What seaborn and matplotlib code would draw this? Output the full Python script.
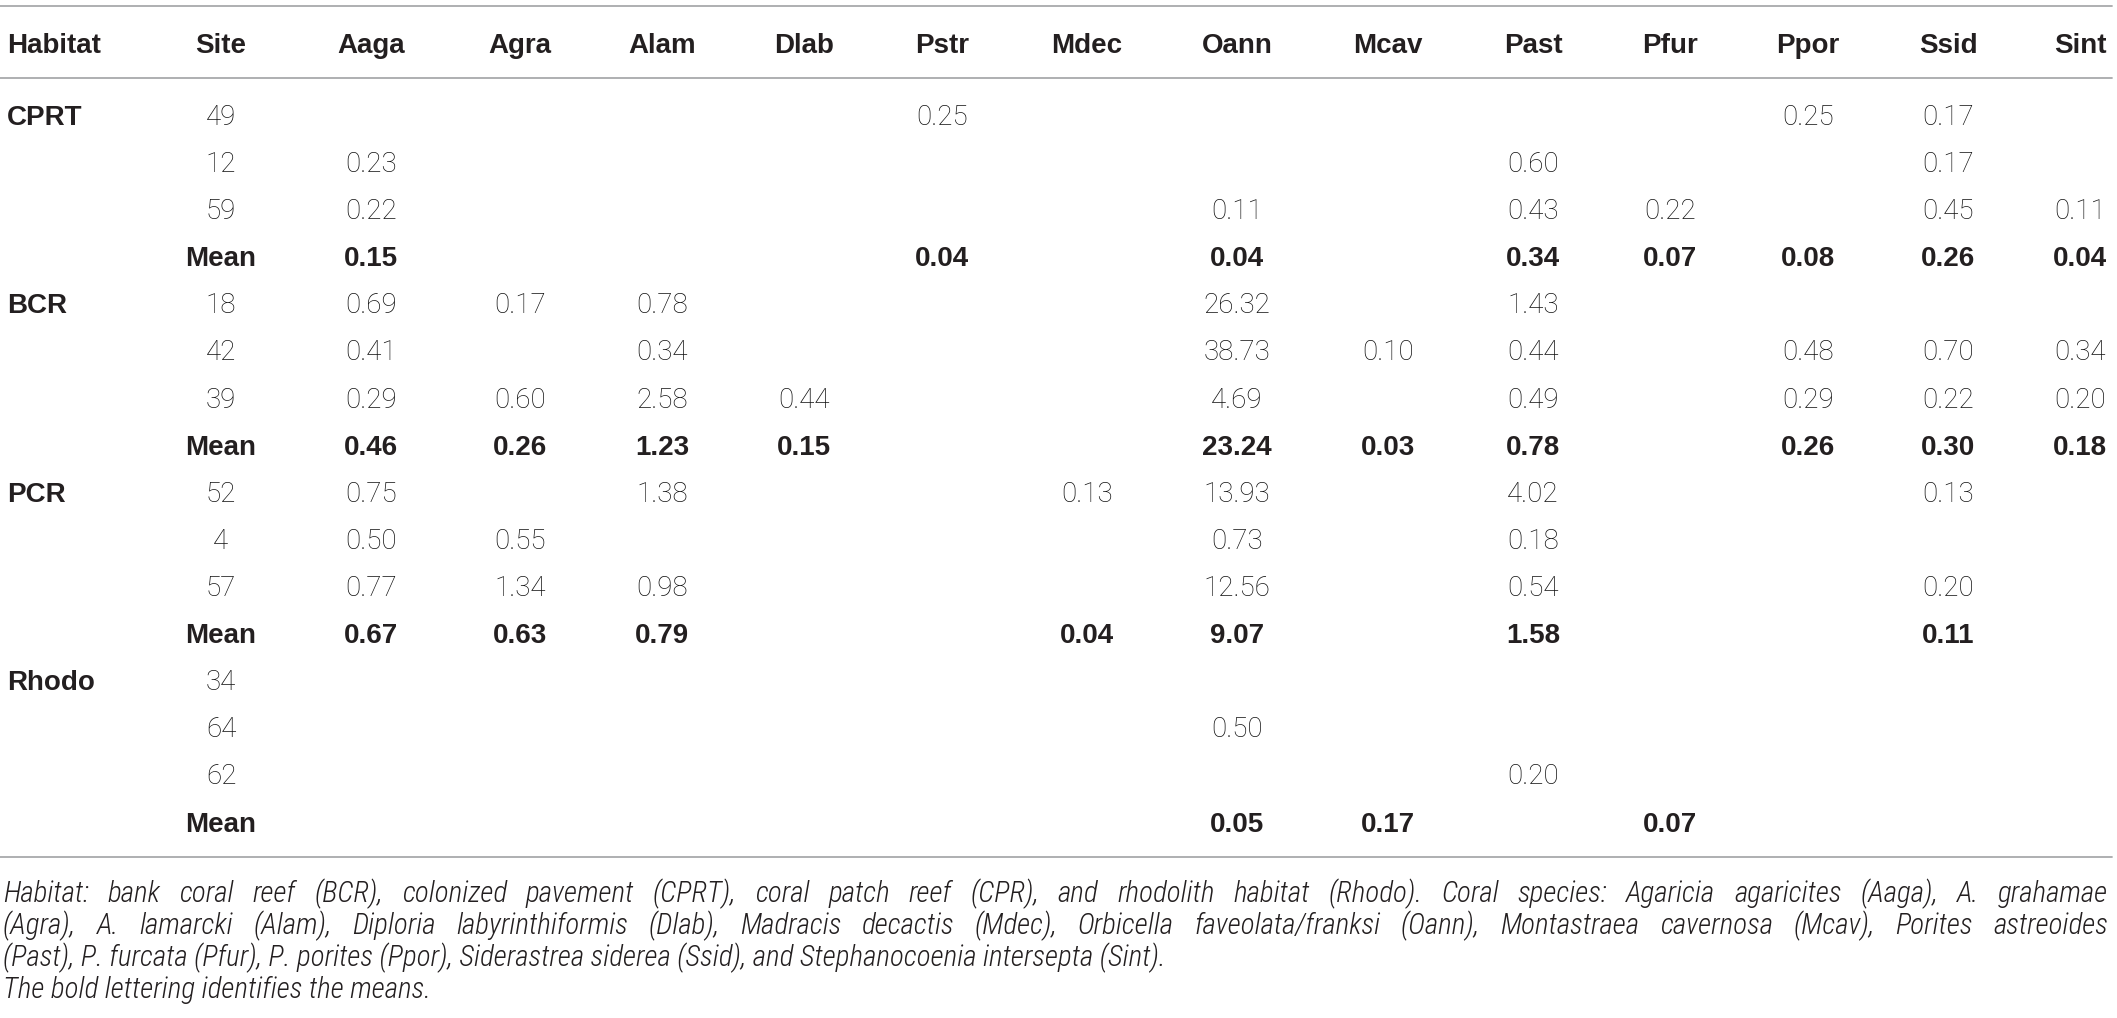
"""
Coral species density table by habitat and site
"""
import matplotlib
matplotlib.use('Agg')
import matplotlib.pyplot as plt
from matplotlib import font_manager
import seaborn as sns
import pandas as pd

# ---- data ----
habitats = ['CPRT', 'BCR', 'PCR', 'Rhodo']
sites = ['49', '12', '59', 'Mean',
         '18', '42', '39', 'Mean',
         '52', '4', '57', 'Mean',
         '34', '64', '62', 'Mean']
species = ['Aaga', 'Agra', 'Alam', 'Dlab', 'Pstr', 'Mdec', 'Oann',
           'Mcav', 'Past', 'Pfur', 'Ppor', 'Ssid', 'Sint']

N = None
aaga = [N, 0.23, 0.22, 0.15, 0.69, 0.41, 0.29, 0.46, 0.75, 0.50, 0.77, 0.67, N, N, N, N]
agra = [N, N, N, N, 0.17, N, 0.60, 0.26, N, 0.55, 1.34, 0.63, N, N, N, N]
alam = [N, N, N, N, 0.78, 0.34, 2.58, 1.23, 1.38, N, 0.98, 0.79, N, N, N, N]
dlab = [N, N, N, N, N, N, 0.44, 0.15, N, N, N, N, N, N, N, N]
pstr = [0.25, N, N, 0.04, N, N, N, N, N, N, N, N, N, N, N, N]
mdec = [N, N, N, N, N, N, N, N, 0.13, N, N, 0.04, N, N, N, N]
oann = [N, N, 0.11, 0.04, 26.32, 38.73, 4.69, 23.24, 13.93, 0.73, 12.56, 9.07, N, 0.50, N, 0.05]
mcav = [N, N, N, N, N, 0.10, N, 0.03, N, N, N, N, N, N, N, 0.17]
past = [N, 0.60, 0.43, 0.34, 1.43, 0.44, 0.49, 0.78, 4.02, 0.18, 0.54, 1.58, N, N, 0.20, N]
pfur = [N, N, 0.22, 0.07, N, N, N, N, N, N, N, N, N, N, N, 0.07]
ppor = [0.25, N, N, 0.08, N, 0.48, 0.29, 0.26, N, N, N, N, N, N, N, N]
ssid = [0.17, 0.17, 0.45, 0.26, N, 0.70, 0.22, 0.30, 0.13, N, 0.20, 0.11, N, N, N, N]
sint = [N, N, 0.11, 0.04, N, 0.34, 0.20, 0.18, N, N, N, N, N, N, N, N]

footnote = [
    "Habitat: bank coral reef (BCR), colonized pavement (CPRT), coral patch reef (CPR), "
    "and rhodolith habitat (Rhodo). Coral species: Agaricia agaricites (Aaga), A. grahamae",
    "(Agra), A. lamarcki (Alam), Diploria labyrinthiformis (Dlab), Madracis decactis (Mdec), "
    "Orbicella faveolata/franksi (Oann), Montastraea cavernosa (Mcav), Porites astreoides",
    "(Past), P. furcata (Pfur), P. porites (Ppor), Siderastrea siderea (Ssid), "
    "and Stephanocoenia intersepta (Sint).",
    "The bold lettering identifies the means.",
]

table = pd.DataFrame(
    dict(zip(species, [aaga, agra, alam, dlab, pstr, mdec, oann,
                       mcav, past, pfur, ppor, ssid, sint])))
table.insert(0, 'Site', sites)

# ---- layout (pixel units of the 2117x1018 canvas) ----
W, H = 2117, 1018
habitat_x = 7
col_x = [221, 371, 520, 662, 804, 942, 1087, 1237, 1388, 1533, 1670, 1808, 1948, 2080]
header_base = 52.5
row0_base = 125
row_h = 47.1
rule_y = [6, 77.5, 857]
foot_left, foot_right = 3, 2108
foot_base0 = 902
foot_h = 32
FS = 20
INK = '#231f20'

sns.set_theme(style='white')
plt.rcParams['font.family'] = ['Roboto', 'DejaVu Sans']


def find_condensed_italic():
    """Return a FontProperties for a narrow italic face if one is installed."""
    prefs = ['Roboto', 'Noto Sans', 'Open Sans', 'Liberation Sans', 'DejaVu Sans', 'Lato', 'Inter']
    found = []
    for f in font_manager.fontManager.ttflist:
        fname = f.fname.lower()
        narrow = ('condensed' in fname or 'narrow' in fname
                  or f.stretch not in ('normal', 500, 'medium'))
        slanted = f.style in ('italic', 'oblique') or 'italic' in fname or 'oblique' in fname
        if narrow and slanted and 'bold' not in fname and 'black' not in fname:
            rank = next((i for i, p in enumerate(prefs) if f.name.startswith(p)), len(prefs))
            light = 0 if 'light' in fname else 1
            found.append((rank, light, f.fname))
    if found:
        found.sort()
        return font_manager.FontProperties(fname=found[0][2])
    return None


fig = plt.figure(figsize=(W / 100, H / 100), dpi=100)
ax = fig.add_axes([0, 0, 1, 1])
ax.set_xlim(0, W)
ax.set_ylim(H, 0)
ax.axis('off')

for y in rule_y:
    ax.axhline(y, xmin=0, xmax=2112 / W, color='#a8a9ab', linewidth=1.3)

bold = dict(family=['Liberation Sans', 'DejaVu Sans'], fontweight='bold',
            fontsize=FS, color=INK, va='baseline')
light = dict(family=['Roboto', 'DejaVu Sans'], fontweight='light',
             fontsize=FS, color='#111111', va='baseline')

# header
ax.text(habitat_x, header_base, 'Habitat', ha='left', **bold)
for x, name in zip(col_x, table.columns):
    ax.text(x, header_base, name, ha='center', **bold)

# body
for i, row in table.iterrows():
    y = row0_base + i * row_h
    is_mean = row['Site'] == 'Mean'
    if i % 4 == 0:
        ax.text(habitat_x, y, habitats[i // 4], ha='left', **bold)
    ax.text(col_x[0], y, row['Site'], ha='center', **(bold if is_mean else light))
    for x, sp in zip(col_x[1:], species):
        v = row[sp]
        if pd.notna(v):
            ax.text(x, y, f'{v:.2f}', ha='center', **(bold if is_mean else light))

# ---- footnote: justified lines like the printed table ----
renderer = fig.canvas.get_renderer()
narrow = find_condensed_italic()
if narrow is not None:
    foot_style = dict(fontproperties=narrow, color=INK, va='baseline', ha='left')
else:
    foot_style = dict(family=['Roboto', 'DejaVu Sans'], fontweight='light', style='italic',
                      color=INK, va='baseline', ha='left')


def put(x, y, s, fs):
    t = ax.text(x, y, s, **foot_style)
    t.set_fontsize(fs)
    return t


def text_width(s, fs):
    t = put(0, 0, s, fs)
    w = t.get_window_extent(renderer).width
    t.remove()
    return w


foot_fs = 21
longest = max(text_width(line, foot_fs) for line in footnote[:2])
if longest > foot_right - foot_left:
    foot_fs *= (foot_right - foot_left) / longest

for k, line in enumerate(footnote):
    y = foot_base0 + k * foot_h
    if k < 2:
        words = line.split(' ')
        widths = [text_width(w, foot_fs) for w in words]
        gap = (foot_right - foot_left - sum(widths)) / (len(words) - 1)
        x = foot_left
        for w, wd in zip(words, widths):
            put(x, y, w, foot_fs)
            x += wd + gap
    else:
        put(foot_left, y, line, foot_fs)

fig.savefig('out.png', dpi=100, facecolor='white')
plt.close(fig)
